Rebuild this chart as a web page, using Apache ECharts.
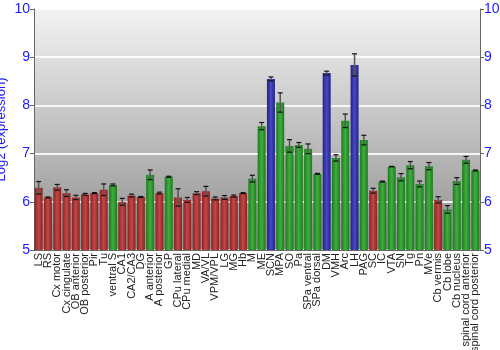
<!DOCTYPE html>
<html><head><meta charset="utf-8">
<script src="https://cdn.jsdelivr.net/npm/echarts@6/dist/echarts.min.js"></script>
<style>html,body{margin:0;padding:0;background:#fff}#c{width:500px;height:350px}</style>
</head><body><div id="c"></div>
<script>
const categories = ["LS","RS","Cx motor","Cx cingulate","OB anterior","OB posterior","Pir","Tu","ventral S","CA1","CA2/CA3","DG","A anterior","A posterior","GP","CPu lateral","CPu medial","MD","VA/VL","VPM/VPL","LG","MG","Hb","M","ME","SCN","MPA","SO","Pa","SPa ventral","SPa dorsal","DM","VMH","Arc","LH","PAG","SC","IC","VTA","SN","Tg","Pn","MVe","Cb vermis","Cb lobe","Cb nucleus","spinal cord anterior","spinal cord posterior"];
const values = [6.29,6.09,6.30,6.18,6.09,6.155,6.18,6.25,6.35,6.00,6.13,6.10,6.56,6.18,6.52,6.09,6.04,6.18,6.22,6.07,6.09,6.12,6.18,6.48,7.57,8.55,8.06,7.16,7.18,7.10,6.58,8.67,6.91,7.68,8.84,7.28,6.23,6.42,6.73,6.51,6.76,6.37,6.74,6.04,5.84,6.43,6.87,6.65];
const errors = [0.13,0.01,0.06,0.07,0.045,0.02,0.01,0.12,0.02,0.07,0.03,0.01,0.10,0.02,0.01,0.18,0.05,0.03,0.10,0.03,0.04,0.02,0.01,0.07,0.075,0.04,0.20,0.13,0.05,0.10,0.01,0.04,0.065,0.14,0.23,0.10,0.05,0.01,0.005,0.075,0.075,0.06,0.075,0.065,0.08,0.07,0.07,0.01];
const groups = ["r","r","r","r","r","r","r","r","g","r","r","r","g","r","g","r","r","r","r","r","r","r","r","g","g","b","g","g","g","g","g","b","g","g","b","g","r","g","g","g","g","g","g","r","g","g","g","g"];
const yTicks = [5,6,7,8,9,10];

const palette = {
  r: ['#8a2222','#c24848','#8a2222'],
  g: ['#1e7a1e','#3fae3f','#1e7a1e'],
  b: ['#22228a','#4848c2','#22228a']
};
function grad(k){
  const p = palette[k];
  return new echarts.graphic.LinearGradient(0,0,1,0,[
    {offset:0,color:p[0]},{offset:0.5,color:p[1]},{offset:1,color:p[2]}]);
}
const chart = echarts.init(document.getElementById('c'), null, {renderer:'canvas'});
const barData = values.map((v,i)=>({value:v,itemStyle:{color:grad(groups[i])}}));
const errData = values.map((v,i)=>[i, v-errors[i], v+errors[i]]);
const axisLbl = {color:'#1a1aff', fontSize:14, fontFamily:'Liberation Sans'};
chart.setOption({
  animation:false,
  grid:{left:34,right:20,top:9,bottom:100,outerBoundsMode:'none',containLabel:false,show:true,borderWidth:0,
    backgroundColor:new echarts.graphic.LinearGradient(0,0,0,1,[{offset:0,color:'#f3f3f3'},{offset:1,color:'#8e8e8e'}])},
  xAxis:{type:'category',data:categories,
    axisLine:{show:true,lineStyle:{color:'#666'}},axisTick:{show:false},
    axisLabel:{rotate:90,interval:0,color:'#222',fontSize:11,fontFamily:'Liberation Sans',margin:3}},
  yAxis:[
    {type:'value',min:5,max:10,interval:1,name:'Log2 (expression)',nameLocation:'middle',nameGap:26,nameMoveOverlap:false,
     nameTextStyle:{color:'#1a1aff',fontSize:13,fontFamily:'Liberation Sans'},
     axisLine:{show:true,lineStyle:{color:'#666'}},axisTick:{show:true,length:4,lineStyle:{color:'#666'}},
     axisLabel:Object.assign({margin:4},axisLbl),
     splitLine:{show:true,lineStyle:{color:'rgba(255,255,255,0.85)',width:2}}},
    {type:'value',min:5,max:10,interval:1,position:'right',
     axisLine:{show:true,lineStyle:{color:'#666'}},axisTick:{show:true,length:4,lineStyle:{color:'#666'}},
     axisLabel:Object.assign({margin:4},axisLbl),splitLine:{show:false}}
  ],
  series:[
    {type:'bar',data:barData,barCategoryGap:'14%'},
    {type:'custom',data:errData,z:5,
     renderItem:function(params,api){
       const x=api.value(0);
       const lo=api.coord([x,api.value(1)]);
       const hi=api.coord([x,api.value(2)]);
       const w=2.5;
       return {type:'group',children:[
         {type:'line',shape:{x1:lo[0],y1:lo[1],x2:hi[0],y2:hi[1]},style:{stroke:'#555',lineWidth:1.5}},
         {type:'line',shape:{x1:lo[0]-w,y1:lo[1],x2:lo[0]+w,y2:lo[1]},style:{stroke:'#111',lineWidth:1.2}},
         {type:'line',shape:{x1:hi[0]-w,y1:hi[1],x2:hi[0]+w,y2:hi[1]},style:{stroke:'#111',lineWidth:1.2}}
       ]};
     }}
  ]
});
</script></body></html>
